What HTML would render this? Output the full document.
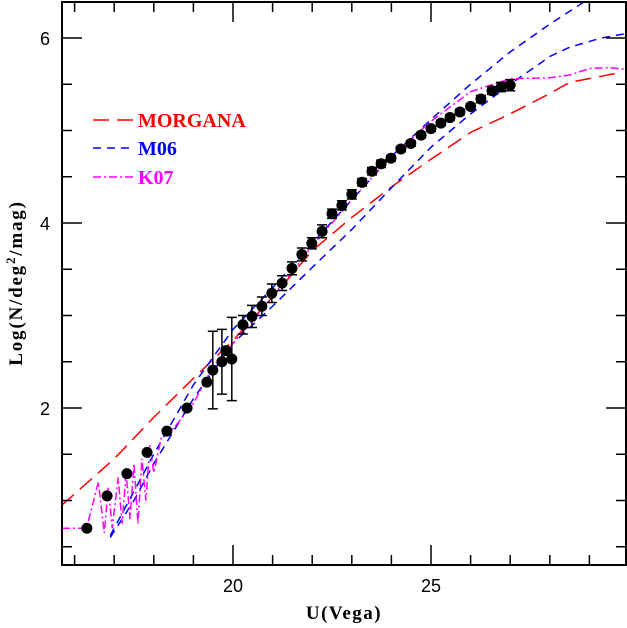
<!DOCTYPE html>
<html><head><meta charset="utf-8"><style>
body{margin:0;background:#fff}
svg{display:block}
text{font-family:"Liberation Serif",serif;font-weight:bold}
</style></head><body>
<svg id="chart" width="627" height="628"></svg>
<script>
const dataU=[16.31,16.82,17.32,17.83,18.33,18.84,19.34,19.49,19.72,19.82,19.97,20.25,20.48,20.73,20.98,21.24,21.49,21.74,21.99,22.25,22.5,22.75,23.0,23.26,23.51,23.74,23.99,24.24,24.49,24.75,25.0,25.25,25.48,25.73,26.0,26.26,26.54,26.77,27.0];
const dataLogN=[0.70,1.05,1.29,1.52,1.75,2.00,2.28,2.41,2.50,2.62,2.53,2.90,2.99,3.10,3.24,3.35,3.51,3.66,3.78,3.91,4.10,4.19,4.31,4.44,4.56,4.64,4.70,4.80,4.86,4.95,5.02,5.08,5.14,5.20,5.26,5.34,5.43,5.47,5.49];
const dataErr=[0,0,0,0,0,0,0,0.42,0.35,0,0.45,0.1,0.12,0.1,0.1,0.08,0.07,0.07,0.06,0.07,0.05,0.05,0.05,0.04,0.04,0.04,0.03,0.03,0.03,0.03,0.03,0.03,0.03,0.03,0.03,0.04,0.04,0.05,0.06];
const morganaU=[15.68,17,18,19,20,21,22,23,24,25,26,27,28,28.5,29.7];
const morganaLogN=[0.95,1.45,1.9,2.32,2.73,3.2,3.7,4.06,4.39,4.69,4.98,5.18,5.4,5.52,5.62];
const m06aU=[16.9,17.5,18,19,20,21,22,23,24,25,26,27,28,28.9,29.3];
const m06aLogN=[0.62,1.1,1.5,2.25,2.85,3.3,3.78,4.25,4.72,5.12,5.5,5.85,6.15,6.4,6.5];
const m06bU=[16.9,17.5,18,19,20,21,22,23,24,25,26,27,28,28.5,29.3,29.95];
const m06bLogN=[0.6,1.0,1.4,2.1,2.7,3.1,3.52,3.93,4.38,4.82,5.18,5.5,5.8,5.9,6.0,6.05];
const k07U=[15.68,16.3,16.6,16.75,16.85,16.95,17.1,17.2,17.3,17.4,17.5,17.6,17.7,17.8,17.9,18.0,18.2,18.5,19,19.5,20,21,22,23,24,25,26,27,28,28.5,29,29.5,29.95];
const k07LogN=[0.7,0.7,1.2,0.65,1.15,0.7,1.25,0.75,1.3,0.8,1.4,0.75,1.45,1.0,1.6,1.3,1.7,1.78,2.05,2.45,2.7,3.2,3.75,4.25,4.72,5.1,5.42,5.56,5.57,5.6,5.67,5.68,5.66];
const xTicksMajor=[20,25], yTicksMajor=[2,4,6];

const NS="http://www.w3.org/2000/svg";
const svg=document.getElementById('chart');
const L=62,R=626,T=2,B=565;
const X=u=>233+(u-20)*39.6;
const Y=v=>408-(v-2)*92.5;
function el(tag,attrs,parent){const e=document.createElementNS(NS,tag);for(const k in attrs)e.setAttribute(k,attrs[k]);(parent||svg).appendChild(e);return e;}
const defs=el('defs',{});
const cp=el('clipPath',{id:'clip'},defs);el('rect',{x:L,y:T,width:R-L,height:B-T},cp);
const g=el('g',{'clip-path':'url(#clip)'});
function line(us,vs,color,dash,name){
  const p=el('polyline',{points:us.map((u,i)=>X(u)+','+Y(vs[i])).join(' '),fill:'none',stroke:color,'stroke-width':1.5,'stroke-dasharray':dash},g);
  
  
}
line(morganaU,morganaLogN,'#ff0000','16 8','morgana-curve');
line(m06aU,m06aLogN,'#0000ff','8 6','m06-upper-curve');
line(m06bU,m06bLogN,'#0000ff','8 6','m06-lower-curve');
line(k07U,k07LogN,'#ff00ff','8 3 2 3','k07-curve');
dataU.forEach((u,i)=>{
  if(dataErr[i]>0){
    const e=dataErr[i],x=X(u);
    const b=el('path',{d:`M${x},${Y(dataLogN[i]+e)}V${Y(dataLogN[i]-e)}M${x-5},${Y(dataLogN[i]+e)}h10M${x-5},${Y(dataLogN[i]-e)}h10`,stroke:'#000','stroke-width':1.5,fill:'none'},g);
    
    
  }
  const c=el('circle',{cx:X(u),cy:Y(dataLogN[i]),r:5.5,fill:'#000'},g);
  
  
});
const fr=el('rect',{x:L,y:T,width:R-L,height:B-T,fill:'none',stroke:'#000','stroke-width':2});


let td='';
for(let u=16;u<=29;u++){const x=X(u),len=xTicksMajor.includes(u)?20:10;td+=`M${x},${B}v${-len}M${x},${T}v${len}`;}
for(let v=0.5;v<=6.3;v+=0.5){const y=Y(v),len=yTicksMajor.includes(v)?20:10;td+=`M${L},${y}h${len}M${R},${y}h${-len}`;}
const tk=el('path',{d:td,stroke:'#000','stroke-width':1.5,fill:'none'});


xTicksMajor.forEach(u=>{const t=el('text',{x:X(u),y:592,'text-anchor':'middle','font-size':18,style:'font-family:"Liberation Sans",sans-serif;font-weight:normal'});t.textContent=u;
  
  });
yTicksMajor.forEach(v=>{const t=el('text',{x:50,y:Y(v)+7,'text-anchor':'end','font-size':18,style:'font-family:"Liberation Sans",sans-serif;font-weight:normal'});t.textContent=v;
  
  });
</script>
<svg width="627" height="628" style="position:absolute;left:0;top:0">
<text x="344" y="619" text-anchor="middle" font-size="19" letter-spacing="1.5">U(Vega)</text>
<text transform="translate(22,283) rotate(-90)" text-anchor="middle" font-size="19" letter-spacing="1.8">Log(N/deg<tspan dy="-7" font-size="13">2</tspan><tspan dy="7">/mag)</tspan></text>
<g>
<line x1="93" y1="120" x2="133" y2="120" stroke="#ff0000" stroke-width="1.5" stroke-dasharray="16 8"/>
<text x="138" y="127" font-size="20" fill="#ff0000">MORGANA</text>
<line x1="93" y1="148" x2="133" y2="148" stroke="#0000ff" stroke-width="1.5" stroke-dasharray="8 6"/>
<text x="138" y="155" font-size="20" fill="#0000ff">M06</text>
<line x1="93" y1="177" x2="133" y2="177" stroke="#ff00ff" stroke-width="1.5" stroke-dasharray="8 3 2 3"/>
<text x="138" y="184" font-size="20" fill="#ff00ff">K07</text>
</g>
</svg>
</body></html>
